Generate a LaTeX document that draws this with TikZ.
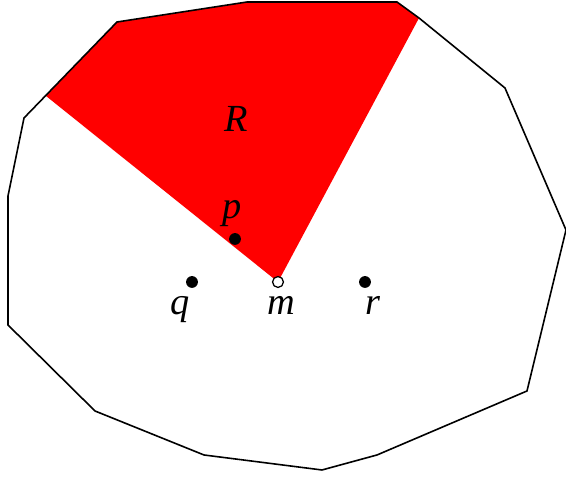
\documentclass[tikz,border=0pt]{standalone}
\usepackage{fontspec}
\setmainfont{Liberation Serif}
\usetikzlibrary{positioning}

\begin{document}
\begin{tikzpicture}[x=0.011cm,y=-0.011cm,
    dot/.style={circle,fill=black,inner sep=0pt,minimum size=0.13cm},
    hole/.style={circle,draw,fill=white,inner sep=0pt,minimum size=0.12cm,line width=0.4pt},
    lbl/.style={font=\large\itshape,inner sep=0pt,anchor=base}
]
\useasboundingbox (0,0) rectangle (566,478);
% outline of the region
\coordinate (v1) at (117,22);
\coordinate (v2) at (247,2);
\coordinate (v3) at (397,2);
\coordinate (v4) at (419,18);
\coordinate (v5) at (505,88);
\coordinate (v6) at (566,230);
\coordinate (v7) at (527,391);
\coordinate (v8) at (377,455);
\coordinate (v9) at (322,470);
\coordinate (v10) at (204,455);
\coordinate (v11) at (95,411);
\coordinate (v12) at (8,325);
\coordinate (v13) at (8,196);
\coordinate (v14) at (24,118);
\coordinate (cut) at (46,96);
% sector R
\fill[red] (278,282) -- (cut) -- (v1) -- (v2) -- (v3) -- (v4) -- cycle;
\draw[line width=0.5pt] (v1) -- (v2) -- (v3) -- (v4) -- (v5) -- (v6) -- (v7) -- (v8) -- (v9)
    -- (v10) -- (v11) -- (v12) -- (v13) -- (v14) -- cycle;
\node[lbl] (lR) at (236,132) {R};
% points
\node[dot] (p) at (235,239) {};
\node[dot] (q) at (192,282) {};
\node[hole] (m) at (278,282) {};
\node[dot] (r) at (365,282) {};
\node[lbl] (lp) at (232,219) {p};
\node[lbl] (lq) at (180,315) {q};
\node[lbl] (lm) at (281,315) {m};
\node[lbl] (lr) at (373,315) {r};
\end{tikzpicture}
\end{document}
